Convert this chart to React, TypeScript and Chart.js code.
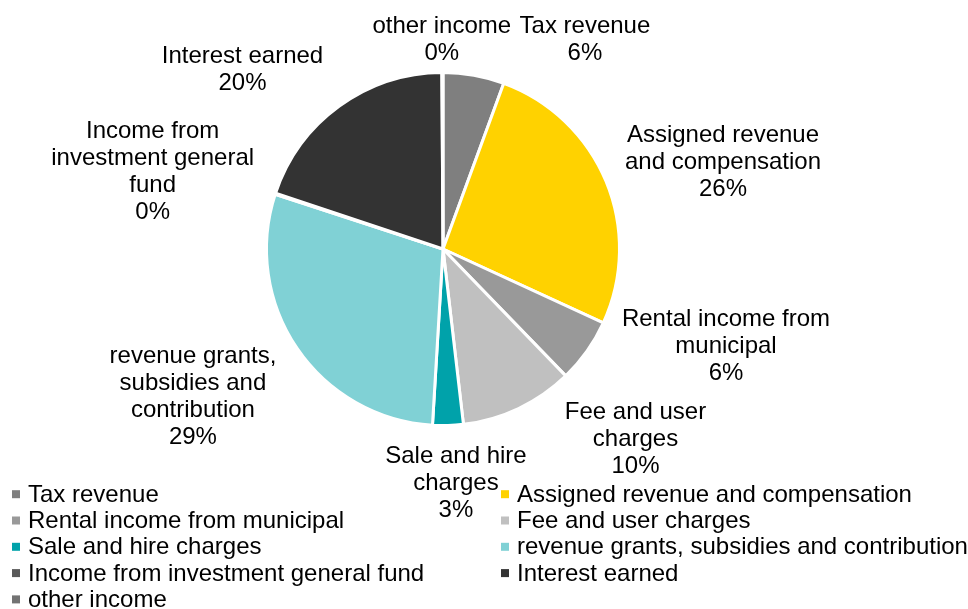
import React, { useEffect, useRef } from "react";
import { Chart, registerables } from "chart.js";

Chart.register(...registerables);

// ---- data ----
const categories = [
  "Tax revenue",
  "Assigned revenue and compensation",
  "Rental income from municipal",
  "Fee and user charges",
  "Sale and hire charges",
  "revenue grants, subsidies and contribution",
  "Income from investment general fund",
  "Interest earned",
  "other income",
];
const values = [5.6, 26.3, 5.9, 10.4, 2.8, 29.1, 0.1, 19.8, 0.1];
const colors = [
  "#7f7f7f",
  "#ffd200",
  "#999999",
  "#c0c0c0",
  "#00a2aa",
  "#80d1d5",
  "#595959",
  "#333333",
  "#737373",
];

// ---- label layout (wrapping and placement relative to pie centre, in radii) ----
const labelLines = [
  ["Tax revenue"],
  ["Assigned revenue", "and compensation"],
  ["Rental income from", "municipal"],
  ["Fee and user", "charges"],
  ["Sale and hire", "charges"],
  ["revenue grants,", "subsidies and", "contribution"],
  ["Income from", "investment general", "fund"],
  ["Interest earned"],
  ["other income"],
];
const labelOffsets: [number, number][] = [
  [0.811, -1.206],
  [1.6, -0.503],
  [1.617, 0.543],
  [1.1, 1.078],
  [0.074, 1.331],
  [-1.429, 0.834],
  [-1.659, -0.451],
  [-1.146, -1.037],
  [-0.007, -1.203],
];

const FONT = '24px "Liberation Sans", Arial, sans-serif';

const labelPlugin = {
  id: "outsideLabels",
  afterDraw(chart: any) {
    const ctx = chart.ctx;
    const meta = chart.getDatasetMeta(0);
    const arc0 = meta.data[0];
    if (!arc0) return;
    const cx = arc0.x;
    const cy = arc0.y;
    const r = arc0.outerRadius - 1.5;
    const ds = chart.data.datasets[0].data as number[];
    const total = ds.reduce((a: number, b: number) => a + b, 0);
    ctx.save();
    ctx.font = FONT;
    ctx.fillStyle = "#000000";
    ctx.textAlign = "center";
    ctx.textBaseline = "alphabetic";
    const lh = 27;
    ds.forEach((v: number, i: number) => {
      const lines = [...labelLines[i], Math.round((v / total) * 100) + "%"];
      const bx = cx + labelOffsets[i][0] * r;
      const by = cy + labelOffsets[i][1] * r;
      const n = lines.length;
      lines.forEach((t, k) => {
        const yc = by + (k - (n - 1) / 2) * lh;
        ctx.fillText(t, bx, yc + 8.5);
      });
    });

    // legend: two columns, row-major
    const colX = [12, 501];
    const textDx = 16;
    const baseY = 501.7;
    const rowH = 26.3;
    ctx.textAlign = "left";
    chart.data.labels.forEach((lab: string, i: number) => {
      const col = i % 2;
      const row = Math.floor(i / 2);
      const y = baseY + row * rowH;
      ctx.fillStyle = colors[i];
      ctx.fillRect(colX[col], y - 11.5, 8, 8);
      ctx.fillStyle = "#000000";
      ctx.fillText(lab, colX[col] + textDx, y);
    });
    ctx.restore();
  },
};

export default function App() {
  const ref = useRef<HTMLCanvasElement>(null);
  useEffect(() => {
    if (!ref.current) return;
    const chart = new Chart(ref.current, {
      type: "pie",
      data: {
        labels: categories,
        datasets: [
          {
            data: values,
            backgroundColor: colors,
            borderColor: "#ffffff",
            borderWidth: 3,
          },
        ],
      },
      options: {
        responsive: false,
        animation: false,
        layout: { padding: { left: 265, right: 347, top: 71, bottom: 182 } },
        plugins: {
          legend: { display: false },
          tooltip: { enabled: false },
        },
      },
      plugins: [labelPlugin],
    });
    return () => chart.destroy();
  }, []);
  return (
    <div style={{ position: "absolute", left: 0, top: 0, width: 968, height: 609, background: "#fff" }}>
      <canvas ref={ref} width={968} height={609} />
    </div>
  );
}
